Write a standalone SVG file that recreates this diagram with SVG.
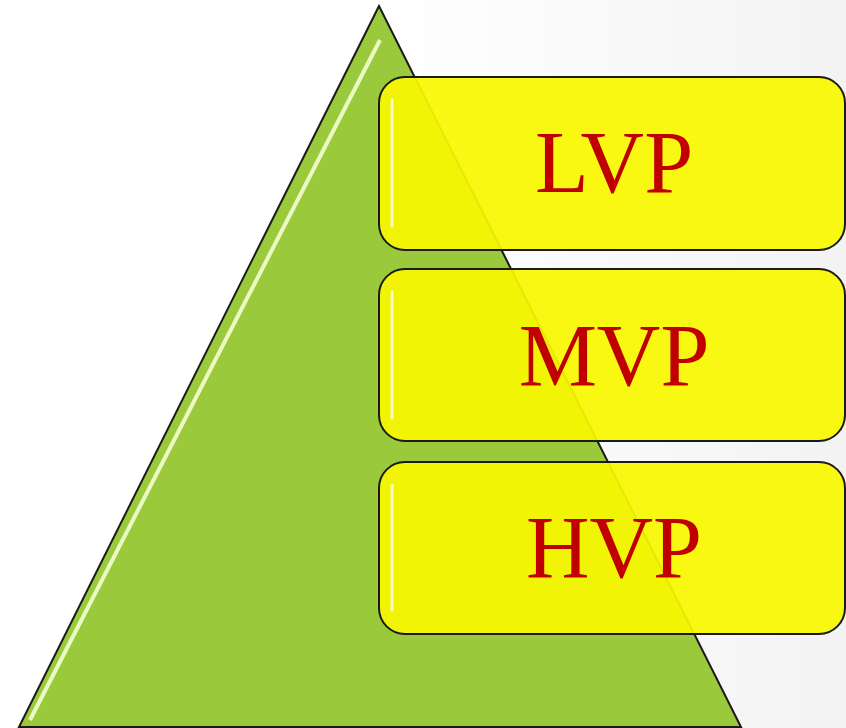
<svg xmlns="http://www.w3.org/2000/svg" width="846" height="728" viewBox="0 0 846 728">
<defs>
<linearGradient id="bg" x1="0" y1="0" x2="1" y2="0">
<stop offset="0.45" stop-color="#ffffff"/>
<stop offset="1" stop-color="#f3f3f3"/>
</linearGradient>
<linearGradient id="hl" x1="0" y1="0" x2="0" y2="1">
<stop offset="0" stop-color="#ffffff" stop-opacity="0.9"/>
<stop offset="1" stop-color="#ffffff" stop-opacity="0.5"/>
</linearGradient>
<style>
.box{fill:#f8f800;fill-opacity:0.93;stroke:#1a1a1a;stroke-width:2}
.lbl{font-family:"Liberation Serif","Times New Roman",serif;font-size:88px;fill:#c00000;text-anchor:middle}
.shine{fill:none;stroke:#ffffff;stroke-opacity:0.75;stroke-width:3;stroke-linecap:round}
</style>
</defs>
<rect width="846" height="728" fill="url(#bg)"/>
<g id="pyramid">
<polygon points="379,6 19,727 741,727" fill="#9aca3c" stroke="#1a1a1a" stroke-width="2"/>
<path d="M380,40 L30,720" stroke="#f4ffd0" stroke-width="4" fill="none" stroke-opacity="0.9"/>
</g>
<g id="LVP">
<rect class="box" x="379" y="77" width="466" height="173" rx="26"/>
<path class="shine" d="M392,100 L392,226"/>
<text class="lbl" x="614" y="192">LVP</text>
</g>
<g id="MVP">
<rect class="box" x="379" y="269" width="466" height="172" rx="26"/>
<path class="shine" d="M392,292 L392,418"/>
<text class="lbl" x="614" y="385">MVP</text>
</g>
<g id="HVP">
<rect class="box" x="379" y="462" width="466" height="172" rx="26"/>
<path class="shine" d="M392,485 L392,610"/>
<text class="lbl" x="614" y="577">HVP</text>
</g>
<g id="connectors"/>
</svg>
